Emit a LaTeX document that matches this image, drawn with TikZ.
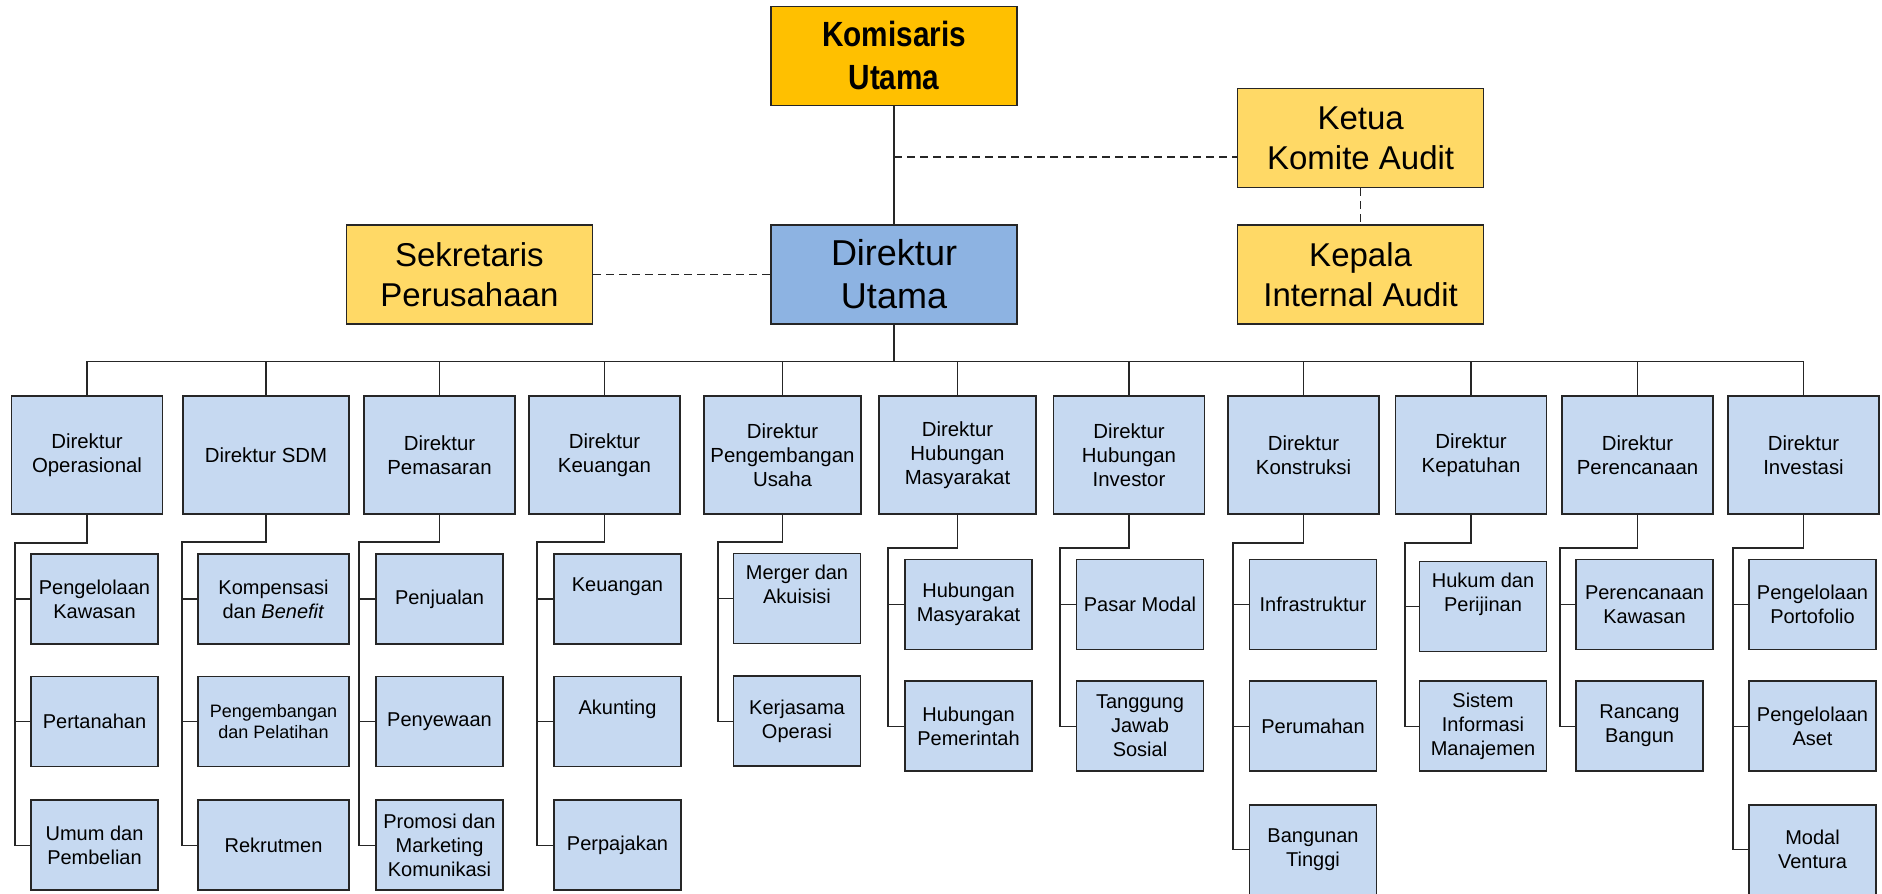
\documentclass[tikz,border=0pt]{standalone}
\usepackage{fontspec}
\setmainfont{Liberation Sans}
\newfontfamily\narrowfont[FakeStretch=0.85]{Liberation Sans}
\usetikzlibrary{positioning}
\definecolor{gold}{HTML}{FFC000}
\definecolor{sand}{HTML}{FFD966}
\definecolor{steel}{HTML}{8DB3E2}
\definecolor{pale}{HTML}{C6D9F1}

\begin{document}
\begin{tikzpicture}[x=0.5pt, y=-0.5pt,
  box/.style={rectangle, draw=black!85, line width=0.8pt, align=center, inner sep=1pt},
  head/.style={box, minimum width=123pt, minimum height=49.5pt, font=\fontsize{16.5}{20}\selectfont},
  dir/.style={box, fill=pale, minimum width=75.5pt, minimum height=59pt, font=\fontsize{10.2}{12}\selectfont},
  sub/.style={box, fill=pale, minimum width=63.5pt, minimum height=45pt, font=\fontsize{10}{12}\selectfont},
  high/.style={text depth=14pt},
  wire/.style={draw=black!85, line width=0.6pt},
  link/.style={wire, dash pattern=on 4pt off 2.5pt}]
\useasboundingbox (0,0) rectangle (1882,893);

\node [head, fill=steel, font=\fontsize{18}{21.5}\selectfont] (dirut) at (894,274.5) {Direktur\\Utama};
\node [head, fill=gold, font=\narrowfont\bfseries\fontsize{17.5}{21.5}\selectfont, above=59pt of dirut] (komut) {Komisaris\\Utama};
\node [head, fill=sand, left=88.5pt of dirut] (sekper) {Sekretaris\\Perusahaan};
\node [head, fill=sand, right=109.5pt of dirut] (kepala) {Kepala\\Internal Audit};
\node [head, fill=sand, above=18pt of kepala] (ketua) {Ketua\\Komite Audit};
\coordinate (komlink) at (894,157);
\draw[wire] (komut) -- (dirut);
\draw[link] (sekper) -- (dirut);
\draw[link] (komlink) -- (komlink -| ketua.west);
\draw[link] (ketua) -- (kepala);

\node [dir] (ops) at (87,455) {Direktur\\Operasional};
\node [dir, minimum width=83pt] (sdm) at (266,455) {Direktur SDM};
\node [dir] (pem) at (439.5,455) {Direktur\\Pemasaran};
\node [dir] (keu) at (604.5,455) {Direktur\\Keuangan};
\node [dir, minimum width=78.5pt] (usaha) at (782.5,455) {Direktur\\Pengembangan\\Usaha};
\node [dir, minimum width=78.5pt] (humas) at (957.5,455) {Direktur\\Hubungan\\Masyarakat};
\node [dir] (inv) at (1129,455) {Direktur\\Hubungan\\Investor};
\node [dir] (kon) at (1303.5,455) {Direktur\\Konstruksi};
\node [dir] (pat) at (1471,455) {Direktur\\Kepatuhan};
\node [dir] (ren) at (1637.5,455) {Direktur\\Perencanaan};
\node [dir] (invs) at (1803.5,455) {Direktur\\Investasi};

\draw[wire] (dirut.south) -- ++(0,-18.5pt) coordinate (bus);
\draw[wire] (bus) -| (ops.north);
\draw[wire] (bus) -| (sdm.north);
\draw[wire] (bus) -| (pem.north);
\draw[wire] (bus) -| (keu.north);
\draw[wire] (bus) -| (usaha.north);
\draw[wire] (bus) -| (humas.north);
\draw[wire] (bus) -| (inv.north);
\draw[wire] (bus) -| (kon.north);
\draw[wire] (bus) -| (pat.north);
\draw[wire] (bus) -| (ren.north);
\draw[wire] (bus) -| (invs.north);

\node [sub] (ops1) at (94.5,599) {Pengelolaan\\Kawasan};
\node [sub, below=15.5pt of ops1] (ops2) {Pertanahan};
\node [sub, below=16pt of ops2] (ops3) {Umum dan\\Pembelian};
\coordinate (opsb) at (15,543);
\draw[wire] (ops.south) |- (opsb) |- (ops3.west);
\draw[wire] (opsb) |- (ops1.west);
\draw[wire] (opsb) |- (ops2.west);

\node [sub, minimum width=75.5pt] (sdm1) at (273.5,599) {Kompensasi\\dan \textit{Benefit}};
\node [sub, minimum width=75.5pt, font=\fontsize{9}{10.8}\selectfont, below=15.5pt of sdm1] (sdm2) {Pengembangan\\dan Pelatihan};
\node [sub, minimum width=75.5pt, below=16pt of sdm2] (sdm3) {Rekrutmen};
\coordinate (sdmb) at (182,542);
\draw[wire] (sdm.south) |- (sdmb) |- (sdm3.west);
\draw[wire] (sdmb) |- (sdm1.west);
\draw[wire] (sdmb) |- (sdm2.west);

\node [sub] (pem1) at (439.5,599) {Penjualan};
\node [sub, below=15.5pt of pem1] (pem2) {Penyewaan};
\node [sub, below=16pt of pem2] (pem3) {Promosi dan\\Marketing\\Komunikasi};
\coordinate (pemb) at (359,542);
\draw[wire] (pem.south) |- (pemb) |- (pem3.west);
\draw[wire] (pemb) |- (pem1.west);
\draw[wire] (pemb) |- (pem2.west);

\node [sub, high] (keu1) at (617.5,599) {Keuangan};
\node [sub, high, below=15.5pt of keu1] (keu2) {Akunting};
\node [sub, below=16pt of keu2] (keu3) {Perpajakan};
\coordinate (keub) at (537,542);
\draw[wire] (keu.south) |- (keub) |- (keu3.west);
\draw[wire] (keub) |- (keu1.west);
\draw[wire] (keub) |- (keu2.west);

\node [sub, high] (usaha1) at (797,598.5) {Merger dan\\Akuisisi};
\node [sub, below=15.5pt of usaha1] (usaha2) {Kerjasama\\Operasi};
\coordinate (usahab) at (718,542);
\draw[wire] (usaha.south) |- (usahab) |- (usaha2.west);
\draw[wire] (usahab) |- (usaha1.west);

\node [sub] (humas1) at (968.5,604.5) {Hubungan\\Masyarakat};
\node [sub, below=15pt of humas1] (humas2) {Hubungan\\Pemerintah};
\coordinate (humasb) at (888,548);
\draw[wire] (humas.south) |- (humasb) |- (humas2.west);
\draw[wire] (humasb) |- (humas1.west);

\node [sub] (inv1) at (1140,604.5) {Pasar Modal};
\node [sub, below=15pt of inv1] (inv2) {Tanggung\\Jawab\\Sosial};
\coordinate (invb) at (1060,548);
\draw[wire] (inv.south) |- (invb) |- (inv2.west);
\draw[wire] (invb) |- (inv1.west);

\node [sub] (kon1) at (1313,604.5) {Infrastruktur};
\node [sub, below=15pt of kon1] (kon2) {Perumahan};
\node [sub, below=16pt of kon2] (kon3) {Bangunan\\Tinggi};
\coordinate (konb) at (1233,543);
\draw[wire] (kon.south) |- (konb) |- (kon3.west);
\draw[wire] (konb) |- (kon1.west);
\draw[wire] (konb) |- (kon2.west);

\node [sub, high] (pat1) at (1483,606.5) {Hukum dan\\Perijinan};
\node [sub, below=14pt of pat1] (pat2) {Sistem\\Informasi\\Manajemen};
\coordinate (patb) at (1405,543);
\draw[wire] (pat.south) |- (patb) |- (pat2.west);
\draw[wire] (patb) |- (pat1.west);

\node [sub, minimum width=68.5pt] (ren1) at (1644.5,604.5) {Perencanaan\\Kawasan};
\node [sub, below=15pt of ren1.south west, anchor=north west] (ren2) {Rancang\\Bangun};
\coordinate (renb) at (1560,548);
\draw[wire] (ren.south) |- (renb) |- (ren2.west);
\draw[wire] (renb) |- (ren1.west);

\node [sub] (invs1) at (1812.5,604.5) {Pengelolaan\\Portofolio};
\node [sub, below=15pt of invs1] (invs2) {Pengelolaan\\Aset};
\node [sub, below=16pt of invs2] (invs3) {Modal\\Ventura};
\coordinate (invsb) at (1733,548);
\draw[wire] (invs.south) |- (invsb) |- (invs3.west);
\draw[wire] (invsb) |- (invs1.west);
\draw[wire] (invsb) |- (invs2.west);
\end{tikzpicture}
\end{document}
